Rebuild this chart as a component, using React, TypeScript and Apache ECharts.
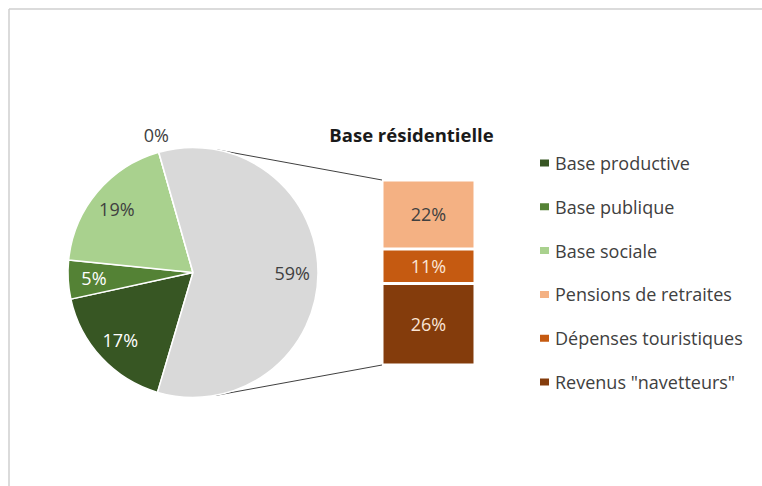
import React, { useEffect, useRef } from "react";
import * as echarts from "echarts";

const pieNames = ["Base productive", "Base publique", "Base sociale"];
const pieValues = [17, 5, 19];
const zeroName = "Autre";
const zeroValue = 0;
const otherName = "Base résidentielle";
const barNames = ["Revenus \"navetteurs\"", "Dépenses touristiques", "Pensions de retraites"];
const barValues = [26, 11, 22];
const legendNames = [
  "Base productive",
  "Base publique",
  "Base sociale",
  "Pensions de retraites",
  "Dépenses touristiques",
  "Revenus \"navetteurs\"",
];

const pieColors = ["#375623", "#548235", "#A9D18E", "#D9D9D9", "#D9D9D9"];
const pieLabelColors = ["#ffffff", "#ffffff", "#404040", "#404040", "#404040"];
const barColors = ["#843C0C", "#C55A11", "#F4B183"];
const barLabelColors = ["#FBE5D6", "#FBE5D6", "#404040"];

const FONT = "Open Sans";

export default function App() {
  const ref = useRef<HTMLDivElement>(null);
  useEffect(() => {
    if (!ref.current) return;
    const chart = echarts.init(ref.current, null, { renderer: "svg" });
    const cx = 193;
    const cy = 272.5;
    const R = 125;
    const gridLeft = 382;
    const gridTop = 180;
    const gridBottomY = 365;
    const barW = 93;
    const barTotal = barValues.reduce((a, b) => a + b, 0);

    const pieData = [
      ...pieNames.map((n, i) => ({ name: n, value: pieValues[i] })),
      { name: zeroName, value: zeroValue },
      { name: otherName, value: barTotal },
    ];

    const tangent = (px: number, py: number, sign: number) => {
      const dx = px - cx;
      const dy = py - cy;
      const d = Math.sqrt(dx * dx + dy * dy);
      const base = Math.atan2(dy, dx);
      const a = base + sign * Math.acos(R / d);
      return [cx + R * Math.cos(a), cy + R * Math.sin(a)];
    };
    const t1 = tangent(gridLeft, gridTop, -1);
    const t2 = tangent(gridLeft, gridBottomY, 1);

    const startAngle = 90 - 196.5;

    chart.setOption({
      animation: false,
      backgroundColor: "#ffffff",
      legend: {
        data: legendNames,
        orient: "vertical",
        left: 533,
        top: 148,
        icon: "rect",
        itemWidth: 11,
        itemHeight: 9,
        itemGap: 23.8,
        selectedMode: false,
        textStyle: { fontFamily: FONT, fontSize: 18, color: "#404040", lineHeight: 20 },
      },
      grid: {
        left: gridLeft,
        top: gridTop,
        width: barW,
        height: gridBottomY - gridTop,
      },
      xAxis: { type: "category", data: [""], show: false },
      yAxis: { type: "value", min: 0, max: barTotal, show: false },
      graphic: [
        { type: "line", shape: { x1: 9, y1: 9, x2: 762, y2: 9 }, style: { stroke: "#cfcfcf", lineWidth: 1.5 } },
        { type: "line", shape: { x1: 9, y1: 9, x2: 9, y2: 486 }, style: { stroke: "#cfcfcf", lineWidth: 1.5 } },
        { type: "line", shape: { x1: t1[0], y1: t1[1], x2: gridLeft, y2: gridTop }, style: { stroke: "#404040", lineWidth: 1 } },
        { type: "line", shape: { x1: t2[0], y1: t2[1], x2: gridLeft, y2: gridBottomY }, style: { stroke: "#404040", lineWidth: 1 } },
        {
          type: "text",
          x: gridLeft + barW / 2 - 17,
          y: 134,
          style: {
            text: otherName,
            fontFamily: FONT,
            fontWeight: "bold",
            fontSize: 18.5,
            fill: "#1a1a1a",
            align: "center",
            verticalAlign: "middle",
          },
        },
      ],
      series: [
        {
          type: "pie",
          center: [cx, cy],
          radius: [0, R],
          startAngle,
          clockwise: true,
          label: { show: false },
          labelLine: { show: false },
          itemStyle: { borderColor: "#ffffff", borderWidth: 1.5 },
          data: pieData.map((d, i) => ({ ...d, itemStyle: { color: pieColors[i] } })),
        },
        {
          type: "pie",
          center: [cx, cy],
          radius: [R * 0.54, R],
          startAngle,
          clockwise: true,
          silent: true,
          itemStyle: { color: "rgba(0,0,0,0)" },
          labelLine: { show: false, length: 18, length2: 0 },
          data: pieData.map((d, i) => ({
            ...d,
            label: {
              show: true,
              position: d.name === zeroName ? "outside" : "inside",
              distanceToLabelLine: -15,
              formatter: (p: any) => Math.round(p.percent) + "%",
              color: pieLabelColors[i],
              fontFamily: FONT,
              fontSize: 18,
            },
          })),
        },
        ...barNames.map((n, i) => ({
          type: "bar",
          name: n,
          stack: "res",
          barWidth: "100%",
          data: [barValues[i]],
          itemStyle: { color: barColors[i], borderColor: "#ffffff", borderWidth: 1.5 },
          label: {
            show: true,
            position: "inside",
            formatter: (p: any) => p.value + "%",
            color: barLabelColors[i],
            fontFamily: FONT,
            fontSize: 18,
          },
        })),
      ],
    });
    return () => chart.dispose();
  }, []);
  return (
    <div
      ref={ref}
      style={{ position: "fixed", left: 0, top: 0, width: 762, height: 486 }}
    />
  );
}
